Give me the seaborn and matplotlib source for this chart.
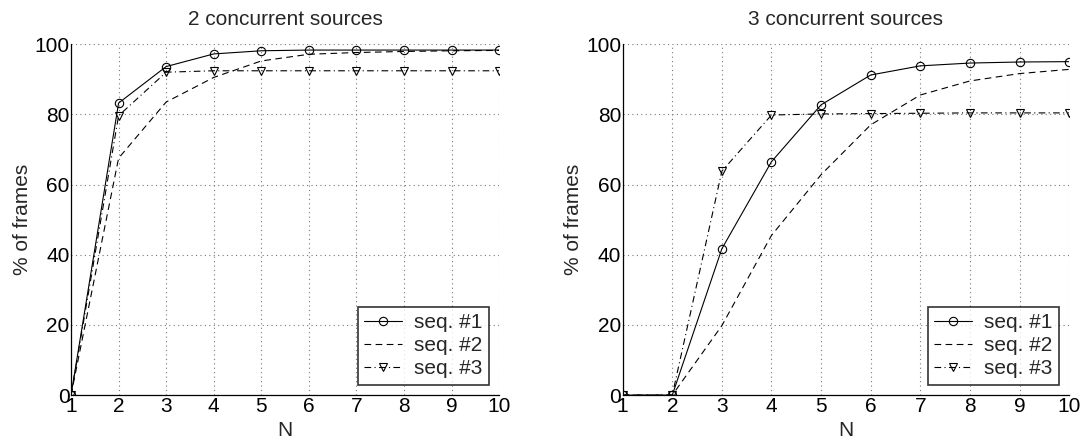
import numpy as np
import pandas as pd
import matplotlib
matplotlib.use("Agg")
import matplotlib.pyplot as plt
import seaborn as sns

# values
n_vals = [1, 2, 3, 4, 5, 6, 7, 8, 9, 10]
labels = ["seq. #1", "seq. #2", "seq. #3"]

# 2 concurrent sources
two_seq1 = [0, 83.2, 93.6, 97.2, 98.1, 98.3, 98.3, 98.3, 98.3, 98.3]
two_seq2 = [0, 67.5, 83.5, 90.5, 95.2, 97.1, 97.6, 97.9, 98.1, 98.2]
two_seq3 = [0, 79.6, 92.0, 92.4, 92.4, 92.4, 92.4, 92.4, 92.4, 92.4]

# 3 concurrent sources
three_seq1 = [0, 0, 41.7, 66.5, 82.7, 91.2, 93.8, 94.6, 94.9, 95.0]
three_seq2 = [0, 0, 19.8, 45.5, 62.8, 77.0, 85.5, 89.5, 91.6, 92.8]
three_seq3 = [0, 0, 63.8, 79.8, 80.1, 80.2, 80.3, 80.4, 80.4, 80.4]

sns.set_style("white")
plt.rcParams['font.family'] = ['Liberation Sans', 'DejaVu Sans']
plt.rcParams['font.size'] = 15

markers = ["o", None, "v"]
dashes = ["-", (0, (6, 4)), (0, (6, 3, 1, 3))]


def draw_panel(ax, series, title):
    for lab, vals, mk, ls in zip(labels, series, markers, dashes):
        sns.lineplot(x=n_vals, y=vals, ax=ax, label=lab, color="black",
                     linewidth=0.8, linestyle=ls, marker=mk, markersize=6,
                     markerfacecolor="none", markeredgecolor="black",
                     markeredgewidth=0.8)
    ax.set_xlim(1, 10)
    ax.set_ylim(0, 100)
    ax.set_xticks(n_vals)
    ax.set_yticks([0, 20, 40, 60, 80, 100])
    ax.grid(True, color="#777777", linestyle=(0, (1, 3)), linewidth=0.8)
    ax.set_axisbelow(True)
    ax.spines["top"].set_visible(False)
    ax.spines["right"].set_visible(False)
    for sp in ["left", "bottom"]:
        ax.spines[sp].set_color("black")
        ax.spines[sp].set_linewidth(0.9)
    ax.tick_params(direction="in", length=4, width=0.8, pad=1, colors="black",
                   labelsize=15)
    ax.set_title(title, fontsize=15, pad=14)
    ax.set_xlabel("N", fontsize=15, labelpad=4)
    ax.set_ylabel("% of frames", fontsize=15, labelpad=2)
    leg = ax.legend(loc="lower right", fontsize=15, handlelength=1.8,
                    frameon=True, fancybox=False, borderpad=0.3,
                    labelspacing=0.2, handletextpad=0.6,
                    bbox_to_anchor=(1.0, 0.0))
    leg.get_frame().set_edgecolor("black")
    leg.get_frame().set_linewidth(1.2)


fig = plt.figure(figsize=(10.81, 4.41), dpi=100)
ax1 = fig.add_axes([0.0657, 0.104, 0.396, 0.796])
ax2 = fig.add_axes([0.576, 0.104, 0.413, 0.796])

draw_panel(ax1, [two_seq1, two_seq2, two_seq3], "2 concurrent sources")
draw_panel(ax2, [three_seq1, three_seq2, three_seq3], "3 concurrent sources")

fig.savefig("out.png", dpi=100)
